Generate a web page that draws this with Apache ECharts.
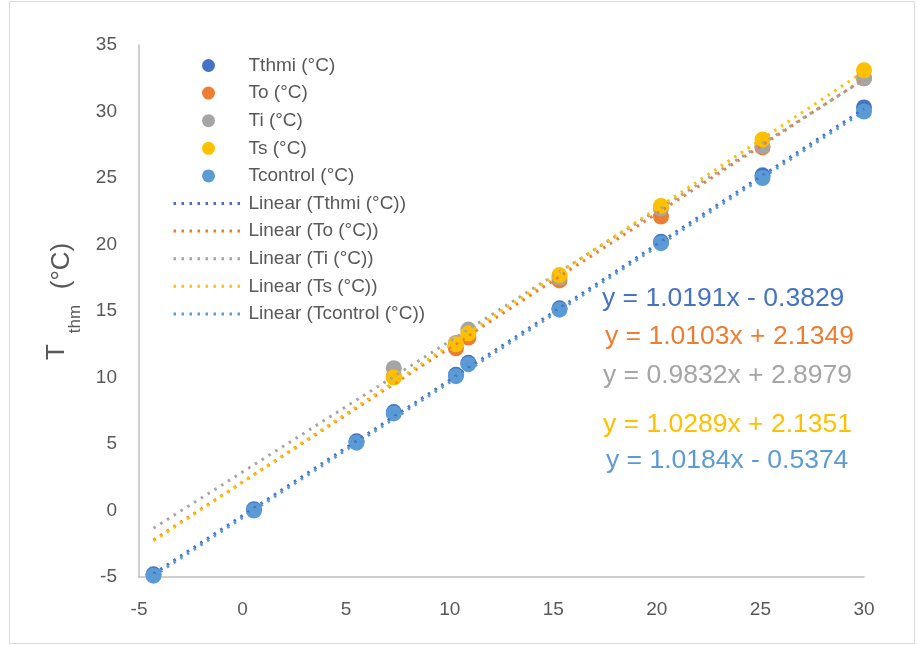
<!DOCTYPE html>
<html>
<head>
<meta charset="utf-8">
<script src="https://cdn.jsdelivr.net/npm/echarts@6/dist/echarts.min.js"></script>
<style>
  html, body { margin: 0; padding: 0; background: #fff; }
  #chart { width: 918px; height: 645px; }
</style>
</head>
<body>
<div id="chart"></div>
<script>
// 数据
var xValues = [-4.3, 0.55, 5.5, 7.3, 10.3, 10.9, 15.3, 20.2, 25.1, 30.0];
var tThmi = [-4.8, 0.1, 5.2, 7.4, 10.2, 11.1, 15.2, 20.2, 25.2, 30.3];
var tO = [null, null, null, 10.1, 12.2, 13.0, 17.3, 22.1, 27.3, 32.5];
var tI = [null, null, null, 10.7, 12.6, 13.6, 17.5, 22.7, 27.4, 32.5];
var tS = [null, null, null, 10.0, 12.5, 13.3, 17.7, 22.9, 27.9, 33.1];
var tControl = [-4.9, 0.0, 5.1, 7.3, 10.1, 11.0, 15.1, 20.1, 25.0, 30.0];

var seriesNames = ["Tthmi (°C)", "To (°C)", "Ti (°C)", "Ts (°C)", "Tcontrol (°C)"];
var seriesValues = [tThmi, tO, tI, tS, tControl];
var colors = ["#4472C4", "#ED7D31", "#A5A5A5", "#FFC000", "#5B9BD5"];

// 趋势线系数（图上的公式）
var slopes = [1.0191, 1.0103, 0.9832, 1.0289, 1.0184];
var intercepts = [-0.3829, 2.1349, 2.8979, 2.1351, -0.5374];

var xTicks = [-5, 30, 5];
var yTicks = [-5, 35, 5];

var font = "Liberation Sans";
var dotted = [2.5, 5.5];

function pairs(ys) {
  var out = [];
  ys.forEach(function (y, i) {
    if (y !== null) out.push([xValues[i], y]);
  });
  return out;
}

function trend(i) {
  var x0 = Math.min.apply(null, xValues);
  var x1 = Math.max.apply(null, xValues);
  return [
    [x0, slopes[i] * x0 + intercepts[i]],
    [x1, slopes[i] * x1 + intercepts[i]],
  ];
}

function eqText(i) {
  var b = intercepts[i];
  return "y = " + slopes[i].toFixed(4) + "x " + (b < 0 ? "- " : "+ ") + Math.abs(b).toFixed(4);
}

var series = [];
seriesNames.forEach(function (name, i) {
  series.push({
    name: name,
    type: "scatter",
    symbolSize: 16,
    itemStyle: { color: colors[i], opacity: 1 },
    data: pairs(seriesValues[i]),
    z: 2,
  });
});
seriesNames.forEach(function (name, i) {
  series.push({
    name: "Linear (" + name + ")",
    type: "line",
    symbol: "none",
    silent: true,
    lineStyle: { color: colors[i], width: 3, type: dotted, cap: "butt" },
    itemStyle: { color: colors[i] },
    data: trend(i),
    z: 3,
  });
});

// 图例：散点项 + 趋势线项（趋势线项不画圆点）
var legendData = seriesNames.map(function (n) { return { name: n }; }).concat(
  seriesNames.map(function (n, i) {
    return {
      name: "Linear (" + n + ")",
      itemStyle: { color: "rgba(0,0,0,0)", borderWidth: 0 },
      lineStyle: { color: colors[i], width: 3, type: dotted },
    };
  })
);

// 公式文字位置
var eqPos = [[602, 299], [605, 337], [603, 376], [603, 425], [606, 461]];
var graphics = [
  {
    type: "rect",
    shape: { x: 9.5, y: 1.5, width: 905, height: 642 },
    style: { fill: null, stroke: "#D9D9D9", lineWidth: 1 },
    silent: true,
  },
  { type: "text", x: 57, y: 352, rotation: Math.PI / 2,
    style: { text: "T", font: "26px " + font, fill: "#595959", align: "center", verticalAlign: "middle" } },
  { type: "text", x: 75, y: 319, rotation: Math.PI / 2,
    style: { text: "thm", font: "17px " + font, fill: "#595959", align: "center", verticalAlign: "middle" } },
  { type: "text", x: 62, y: 266, rotation: Math.PI / 2,
    style: { text: "(°C)", font: "26px " + font, fill: "#595959", align: "center", verticalAlign: "middle" } },
];
eqPos.forEach(function (p, i) {
  graphics.push({
    type: "text",
    x: p[0],
    y: p[1],
    style: { text: eqText(i), font: "26.5px " + font, fill: colors[i], align: "left", verticalAlign: "middle" },
  });
});

var chart = echarts.init(document.getElementById("chart"));
chart.setOption({
  animation: false,
  backgroundColor: "#fff",
  textStyle: { fontFamily: font },
  grid: { left: 139, right: 54, top: 45, bottom: 68, containLabel: false },
  legend: {
    orient: "vertical",
    left: 172,
    top: 56,
    padding: 0,
    itemWidth: 70,
    itemHeight: 13,
    itemGap: 8.6,
    textStyle: { fontSize: 19, lineHeight: 19, color: "#595959", fontFamily: font },
    data: legendData,
  },
  xAxis: {
    type: "value",
    min: xTicks[0],
    max: xTicks[1],
    interval: xTicks[2],
    axisLine: { onZero: false, lineStyle: { color: "#BFBFBF", width: 1.5 } },
    axisTick: { show: false },
    splitLine: { show: false },
    axisLabel: { fontSize: 19, color: "#595959", margin: 23 },
  },
  yAxis: {
    type: "value",
    min: yTicks[0],
    max: yTicks[1],
    interval: yTicks[2],
    axisLine: { show: true, onZero: false, lineStyle: { color: "#BFBFBF", width: 1.5 } },
    axisTick: { show: false },
    splitLine: { show: false },
    axisLabel: { fontSize: 19, color: "#595959", margin: 22 },
  },
  graphic: graphics,
  series: series,
});
</script>
</body>
</html>
